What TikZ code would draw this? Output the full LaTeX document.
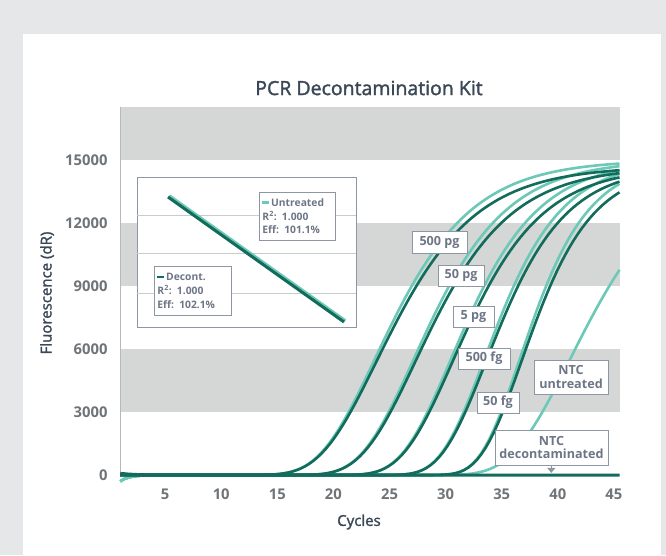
\documentclass[tikz,border=0pt]{standalone}
\usepackage{fontspec}
\setmainfont{Open Sans}
\newfontfamily\headfont[FakeBold=1.6]{Open Sans}
\usetikzlibrary{arrows.meta}

\definecolor{pagegray}{HTML}{E6E7E9}
\definecolor{bandgray}{HTML}{D5D7D6}
\definecolor{decontcol}{HTML}{126B5B}
\definecolor{untreatcol}{HTML}{6CC9B7}
\definecolor{boxline}{HTML}{8E96A3}
\definecolor{boxtext}{HTML}{6D7686}
\definecolor{ticktext}{HTML}{6F7478}
\definecolor{titletext}{HTML}{3A4757}
\definecolor{gridline}{HTML}{C9CBCC}

\begin{document}
\begin{tikzpicture}[
  x=1pt,
  y=1pt,
  tag/.style={
    draw=boxline,
    fill=white,
    line width=1pt,
    text=boxtext,
    font=\fontsize{12.6}{13.7}\selectfont\bfseries,
    align=center,
    inner sep=0pt,
    minimum height=21pt
  },
  legend/.style={
    draw=boxline, fill=white, line width=0.9pt, text=boxtext,
    font=\fontsize{10.3}{13.6}\selectfont\bfseries,
    align=left, anchor=north west, inner xsep=3pt, inner ysep=0pt
  },
  ytick/.style={anchor=east, text=ticktext, font=\fontsize{14.8}{15}\selectfont\bfseries},
  xtick/.style={text=ticktext, font=\fontsize{14.8}{15}\selectfont\bfseries},
  axlabel/.style={text=titletext, font=\headfont\fontsize{15}{15}\selectfont},
  decont/.style={draw=decontcol, line width=2.6pt},
  untreated/.style={draw=untreatcol, line width=2.6pt},
  >={Triangle[width=8pt,length=5pt]}
]
% page and white panel
\fill[pagegray] (0,0) rectangle (666,555);
\fill[white] (23,0) rectangle (661,521);

\node[text=titletext, font=\headfont\fontsize{19.5}{20}\selectfont] (title) at (369,467) {PCR Decontamination Kit};

% bands of the plot area
\begin{scope}[shift={(109,80)}, x=11.22pt, y=21pt]
  \fill[bandgray] (1,3) rectangle (45.5,6);
  \fill[bandgray] (1,9) rectangle (45.5,12);
  \fill[bandgray] (1,15) rectangle (45.5,17.5);
  \draw[black!28, line width=0.8pt] (1,0) -- (1,17.5);
\end{scope}

\foreach \v/\t in {0/0,3/3000,6/6000,9/9000,12/12000,15/15000}
  \node[ytick] (y\v) at (111,{80+21*\v}) {\t};
\foreach \c in {5,10,...,45}
  \node[xtick] (x\c) at ({109+11.22*\c},61) {\c};

\node[axlabel] (xlabel) at (359,33) {Cycles};
\node[axlabel, rotate=90] (ylabel) at (47,262) {Fluorescence (dR)};

% standard curve inset
\node[draw=boxline, fill=white, line width=0.9pt, minimum width=219pt, minimum height=150pt, inner sep=0pt] (inset) at (246.5,303) {};
\foreach \dy in {37,-1,-41}
  \draw[gridline, line width=0.8pt] ([yshift=\dy]inset.west) -- ([yshift=\dy]inset.east);
\coordinate (stdhi) at (168,358);
\coordinate (stdlo) at (344,233);
\draw[untreated, line width=3pt] ([shift={(1.3,1.3)}]stdhi) -- ([shift={(1.3,1.3)}]stdlo);
\draw[decont, line width=3pt] (stdhi) -- (stdlo);

\node[legend, text width=70pt, minimum height=48pt] (legu) at (259,363)
  {{\color{untreatcol}\rule[2.8pt]{7pt}{2.6pt}}\,Untreated\\R\textsuperscript{2}: 1.000\\Eff: 101.1\%};
\node[legend, text width=71pt, minimum height=49pt] (legd) at (154,289)
  {{\color{decontcol}\rule[2.8pt]{7pt}{2.6pt}}\,Decont.\\R\textsuperscript{2}: 1.000\\Eff: 102.1\%};

% amplification curves
\begin{scope}[shift={(109,80)}, x=11.22pt, y=21pt]
  \foreach \m/\k in {23.69/4.9, 27.16/4.7, 30.48/4.4, 33.46/3.9, 36.61/3.5}
    \draw[untreated] plot[domain=1:45.5, samples=120]
      (\x,{15*exp(-min(9,exp(min(5,(\m-\x)/\k)))) - 0.3*exp(-min(9,(\x-1)/0.8))});
  % NTC untreated
  \draw[untreated] plot[domain=1:45.5, samples=120]
    (\x,{15*exp(-min(9,exp(min(5,(41.1-\x)/5.2)))) - 0.3*exp(-min(9,(\x-1)/0.8))});
  \foreach \m/\k in {23.84/5.0, 27.31/4.8, 30.63/4.5, 33.61/4.0, 36.76/3.6}
    \draw[decont] plot[domain=1:45.5, samples=120]
      (\x,{14.7*exp(-min(9,exp(min(5,(\m-\x)/\k))))});
  % NTC decontaminated
  \draw[decont, line width=3pt] plot[domain=1:45.5, samples=60]
    (\x,{0.08*exp(-min(9,(\x-1)/1.2))});
  \coordinate (ntcbase) at (39.42,0.1);
\end{scope}

% curve labels
\node[tag, minimum width=55pt] (pg500) at (439.5,312.5) {500 pg};
\node[tag, minimum width=46pt] (pg50)  at (461,279.5)   {50 pg};
\node[tag, minimum width=41pt] (pg5)   at (473.5,238.5) {5 pg};
\node[tag, minimum width=52pt] (fg500) at (484,196.5)   {500 fg};
\node[tag, minimum width=42pt] (fg50)  at (498,152.5)   {50 fg};
\node[tag, minimum width=74pt, minimum height=34pt] (ntcu) at (571,178) {NTC\\untreated};
\node[tag, minimum width=113pt, minimum height=35pt] (ntcd) at (551.5,107.5) {NTC\\decontaminated};

\draw[boxline, line width=1pt, ->] (ntcd.south -| ntcbase) -- (ntcbase);
\end{tikzpicture}
\end{document}
